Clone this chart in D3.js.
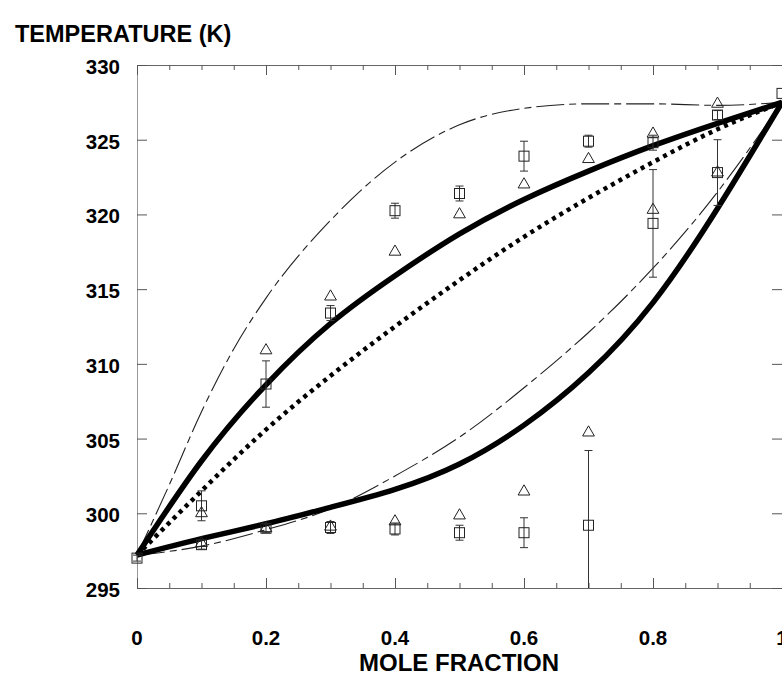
<!DOCTYPE html>
<html>
<head>
<meta charset="utf-8">
<script src="https://cdn.jsdelivr.net/npm/d3@7"></script>
<style>
  html, body { margin: 0; padding: 0; background: #fff; }
  svg { display: block; }
  text { font-family: "Liberation Sans", Arial, sans-serif; font-weight: bold; fill: #000; }
</style>
</head>
<body>
<svg id="chart" width="782" height="681"></svg>
<script>
// ---------------- data ----------------
const yTicks = [295, 300, 305, 310, 315, 320, 325, 330];
const xTicks = [0, 0.2, 0.4, 0.6, 0.8, 1];
const xTickLabels = ["0", "0.2", "0.4", "0.6", "0.8", "1"];

const curveX = [0, 0.1, 0.2, 0.3, 0.4, 0.5, 0.6, 0.7, 0.8, 0.9, 1.0];
const solidUpper = [297.2, 303.5, 308.6, 312.7, 315.9, 318.7, 321.0, 322.9, 324.6, 326.1, 327.5];
const solidLower = [297.2, 298.3, 299.3, 300.4, 301.6, 303.3, 305.9, 309.4, 314.1, 320.4, 327.5];
const dottedMid  = [297.2, 301.5, 305.6, 309.2, 312.5, 315.6, 318.5, 321.1, 323.5, 325.7, 327.5];
const dashLower  = [297.2, 297.8, 298.9, 300.3, 302.5, 305.1, 308.4, 312.1, 316.4, 321.5, 327.5];
const dashUpperX = [0, 0.05, 0.1, 0.15, 0.2, 0.3, 0.4, 0.5, 0.6, 0.7, 0.8, 0.9, 1.0];
const dashUpper  = [297.2, 301.9, 306.8, 311.0, 314.4, 319.6, 323.5, 326.0, 327.1, 327.4, 327.4, 327.3, 327.5];

// squares with error bars
const sqAX   = [0.1, 0.2, 0.3, 0.4, 0.5, 0.6, 0.7, 0.8, 0.9, 1.0];
const sqAT   = [300.5, 308.65, 313.4, 320.25, 321.4, 323.9, 324.9, 324.8, 326.65, 328.1];
const sqAErr = [1.0, 1.55, 0.5, 0.5, 0.5, 1.0, 0.4, 0.5, 0.3, 0];
const sqBX   = [0, 0.1, 0.2, 0.3, 0.4, 0.5, 0.6, 0.7, 0.8, 0.9];
const sqBT   = [297.0, 297.9, 299.0, 299.05, 298.95, 298.7, 298.7, 299.2, 319.4, 322.8];
const sqBErr = [0.2, 0.3, 0.3, 0.4, 0.4, 0.5, 1.0, 5.0, 3.6, 2.2];

// triangles
const triAX = [0.1, 0.2, 0.3, 0.4, 0.5, 0.6, 0.7, 0.8, 0.9];
const triAT = [300.0, 310.9, 314.5, 317.5, 320.0, 322.0, 323.7, 325.4, 327.4];
const triBX = [0.1, 0.2, 0.3, 0.4, 0.5, 0.6, 0.7, 0.8, 0.9];
const triBT = [298.0, 299.0, 299.1, 299.45, 299.85, 301.45, 305.4, 320.3, 322.8];

// ---------------- layout ----------------
const svg = d3.select("#chart");
const padL = 137, padR = 782, padT = 65, padB = 588;
const x = d3.scaleLinear().domain([0, 1]).range([padL, padR]);
const y = d3.scaleLinear().domain([295, 330]).range([padB, padT]);

// frame
const frame = svg.append("g").attr("fill", "none");
frame.append("line").attr("x1", padL).attr("x2", padR + 2).attr("y1", padT + 0.5).attr("y2", padT + 0.5).attr("stroke", "#666");
frame.append("line").attr("x1", padL).attr("x2", padR + 2).attr("y1", padB + 0.5).attr("y2", padB + 0.5).attr("stroke", "#666");
frame.append("line").attr("x1", padL + 0.5).attr("x2", padL + 0.5).attr("y1", padT).attr("y2", padB).attr("stroke", "#999");
frame.append("line").attr("x1", padR + 0.5).attr("x2", padR + 0.5).attr("y1", padT).attr("y2", padB).attr("stroke", "#666");

// axes via d3 (inward ticks)
const minorX = d3.range(0, 1.0001, 0.05).map(v => +v.toFixed(2));
const axBottomMinor = d3.axisTop(x).tickValues(minorX).tickSize(5).tickFormat("");
const axBottomMajor = d3.axisTop(x).tickValues(xTicks).tickSize(10).tickFormat("");
const axTopMinor = d3.axisBottom(x).tickValues(minorX).tickSize(5).tickFormat("");
const axTopMajor = d3.axisBottom(x).tickValues(xTicks).tickSize(10).tickFormat("");
const axLeft = d3.axisRight(y).tickValues(yTicks).tickSize(10).tickFormat("");
const axRight = d3.axisLeft(y).tickValues(yTicks).tickSize(10).tickFormat("");

function styleAxis(g) {
  g.select(".domain").remove();
  g.selectAll(".tick line").attr("stroke", "#555").attr("stroke-width", 1);
}
svg.append("g").attr("transform", `translate(0,${padB})`).call(axBottomMinor).call(styleAxis);
svg.append("g").attr("transform", `translate(0,${padB})`).call(axBottomMajor).call(styleAxis);
svg.append("g").attr("transform", `translate(0,${padT})`).call(axTopMinor).call(styleAxis);
svg.append("g").attr("transform", `translate(0,${padT})`).call(axTopMajor).call(styleAxis);
svg.append("g").attr("transform", `translate(${padL},0)`).call(axLeft).call(styleAxis);
svg.append("g").attr("transform", `translate(${padR},0)`).call(axRight).call(styleAxis);

// tick labels
svg.append("g").selectAll("text").data(yTicks).join("text")
  .attr("x", 120).attr("y", d => y(d) + 9)
  .attr("text-anchor", "end").attr("font-size", 20.5)
  .text(d => d);
svg.append("g").selectAll("text").data(xTicks).join("text")
  .attr("x", d => x(d)).attr("y", 645)
  .attr("text-anchor", "middle").attr("font-size", 20.5)
  .text((d, i) => xTickLabels[i]);

// titles
svg.append("text").attr("x", 15).attr("y", 42).attr("font-size", 23.5).text("TEMPERATURE (K)");
svg.append("text").attr("x", 459).attr("y", 671).attr("text-anchor", "middle").attr("font-size", 24).text("MOLE FRACTION");

// ---------------- curves ----------------
const line = d3.line().x(d => x(d[0])).y(d => y(d[1])).curve(d3.curveNatural);
const lineMono = d3.line().x(d => x(d[0])).y(d => y(d[1])).curve(d3.curveMonotoneX);
const zip = (xs, ys) => xs.map((v, i) => [v, ys[i]]);

const curves = svg.append("g").attr("fill", "none");
curves.append("path").attr("d", lineMono(zip(dashUpperX, dashUpper)))
  .attr("stroke", "#222").attr("stroke-width", 1.1).attr("stroke-dasharray", "28 5 7 5");
curves.append("path").attr("d", line(zip(curveX, dashLower)))
  .attr("stroke", "#222").attr("stroke-width", 1.1).attr("stroke-dasharray", "28 5 7 5");
curves.append("path").attr("d", line(zip(curveX, dottedMid)))
  .attr("stroke", "#000").attr("stroke-width", 4.5).attr("stroke-dasharray", "4 4.5");
curves.append("path").attr("d", line(zip(curveX, solidUpper)))
  .attr("stroke", "#000").attr("stroke-width", 5.5);
curves.append("path").attr("d", line(zip(curveX, solidLower)))
  .attr("stroke", "#000").attr("stroke-width", 5.5);

// ---------------- markers ----------------
const [yMin, yMax] = y.domain();
function errorBars(xs, ts, errs) {
  const g = svg.append("g").attr("stroke", "#333").attr("stroke-width", 1).attr("fill", "none");
  xs.forEach((xv, i) => {
    if (!errs[i]) return;
    const hi = Math.min(ts[i] + errs[i], yMax), lo = Math.max(ts[i] - errs[i], yMin);
    g.append("line").attr("x1", x(xv)).attr("x2", x(xv)).attr("y1", y(hi)).attr("y2", y(lo));
    if (ts[i] + errs[i] <= yMax)
      g.append("line").attr("x1", x(xv) - 4).attr("x2", x(xv) + 4).attr("y1", y(hi)).attr("y2", y(hi));
    if (ts[i] - errs[i] >= yMin)
      g.append("line").attr("x1", x(xv) - 4).attr("x2", x(xv) + 4).attr("y1", y(lo)).attr("y2", y(lo));
  });
}
function squares(xs, ts) {
  svg.append("g").selectAll("rect").data(zip(xs, ts)).join("rect")
    .attr("x", d => x(d[0]) - 5).attr("y", d => y(d[1]) - 5)
    .attr("width", 10).attr("height", 10)
    .attr("fill", "none").attr("stroke", "#222").attr("stroke-width", 1);
}
const triSym = d3.symbol().type(d3.symbolTriangle).size(60);
function triangles(xs, ts) {
  svg.append("g").selectAll("path").data(zip(xs, ts)).join("path")
    .attr("transform", d => `translate(${x(d[0])},${y(d[1])})`)
    .attr("d", triSym)
    .attr("fill", "none").attr("stroke", "#222").attr("stroke-width", 1);
}
errorBars(sqAX, sqAT, sqAErr);
errorBars(sqBX, sqBT, sqBErr);
squares(sqAX, sqAT);
squares(sqBX, sqBT);
triangles(triAX, triAT);
triangles(triBX, triBT);
</script>
</body>
</html>
